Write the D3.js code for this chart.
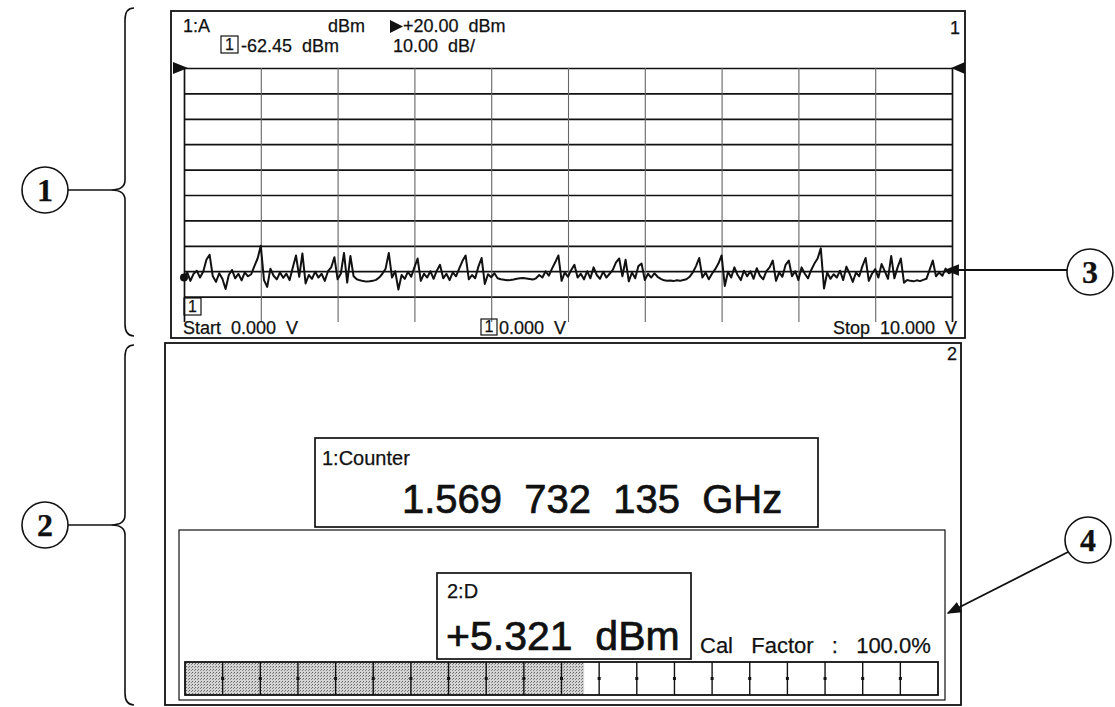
<!DOCTYPE html>
<html>
<head>
<meta charset="utf-8">
<script src="https://cdn.jsdelivr.net/npm/d3@7"></script>
<style>
  html, body { margin: 0; padding: 0; background: #ffffff; }
  svg text { font-family: "Liberation Sans", Arial, sans-serif; fill: #111; white-space: pre; stroke: #111; stroke-width: 0.25px; }
</style>
</head>
<body>
<div id="chart"></div>
<script>
var traceDbm = [
  -62.4, -60.5, -63.8, -61.0, -59.8, -62.5, -60.2, -55.5, -53.5, -62.0,
  -64.2, -60.8, -63.0, -67.0, -61.5, -59.5, -62.8, -61.0, -63.6, -60.5,
  -62.0, -61.2, -58.0, -55.0, -50.0, -63.5, -66.2, -59.0, -61.8, -63.2,
  -60.5, -62.6, -61.0, -63.5, -58.5, -53.8, -62.2, -53.0, -64.8, -61.5,
  -63.0, -60.2, -62.5, -61.0, -63.8, -60.0, -58.5, -54.5, -63.2, -61.0,
  -52.8, -64.5, -54.0, -62.0, -63.2, -63.6, -63.9, -64.1, -64.0, -63.8,
  -63.4, -62.5, -61.0, -59.0, -52.8, -62.5, -60.0, -67.2, -61.5, -63.0,
  -60.2, -62.2, -58.5, -55.0, -63.8, -61.0, -62.5, -60.0, -63.0, -59.8,
  -57.5, -62.8, -61.0, -63.5, -60.5, -62.0, -59.0, -56.0, -53.8, -63.2,
  -61.5, -62.8, -58.2, -54.8, -65.0, -61.2, -62.4, -60.8, -62.8, -63.2,
  -63.4, -63.6, -63.5, -63.3, -63.0, -62.8, -62.7, -62.9, -63.1, -63.3,
  -62.8, -61.5, -62.5, -60.0, -61.8, -59.0, -56.5, -53.8, -63.8, -60.5,
  -62.2, -59.5, -57.5, -62.5, -61.0, -63.2, -60.0, -62.8, -58.5, -61.5,
  -63.0, -60.2, -62.5, -61.0, -59.5, -56.5, -55.0, -62.0, -55.5, -64.0,
  -60.5, -62.8, -58.0, -57.0, -63.5, -61.0, -62.5, -60.8, -62.2, -63.0,
  -63.6, -63.8, -63.7, -63.9, -63.6, -63.8, -63.5, -63.2, -62.2, -60.5,
  -58.0, -54.8, -62.5, -60.5, -63.2, -61.0, -59.2, -57.0, -53.8, -65.8,
  -60.2, -62.5, -58.5, -61.5, -63.5, -59.8, -62.0, -60.0, -63.0, -58.8,
  -61.8, -63.2, -60.0, -58.5, -55.8, -63.8, -60.5, -62.2, -57.5, -55.8,
  -62.0, -60.0, -63.5, -58.5, -61.0, -62.8, -59.5, -57.0, -55.0, -51.0,
  -66.8, -60.5, -63.0, -61.2, -62.5, -59.8, -63.5, -58.2, -61.0, -64.2,
  -60.5, -62.0, -58.0, -54.8, -63.8, -61.0, -59.2, -62.5, -57.2, -60.0,
  -63.0, -54.0, -62.8, -58.5, -55.0, -64.5, -63.5, -63.8, -64.0, -63.6,
  -63.9, -63.4, -63.0, -59.5, -55.8, -62.0, -60.5, -61.8, -59.0, -60.8,
  -60.2
];
var sweepVolts = [0, 10];
var refLevel = 20;      // dBm at top line
var dbPerDiv = 10;
var markerDbm = -62.45;
var counterText = '1.569  732  135  GHz';
var powerText = '+5.321  dBm';
var calText = 'Cal  Factor  :  100.0%';
var barSegments = 20;
var barLevel = 10.6;    // filled segments
var calloutLabels = ['1', '2', '3', '4'];

var W = 1115, H = 707;
var svg = d3.select('#chart').append('svg').attr('width', W).attr('height', H);

var defs = svg.append('defs');
var pat = defs.append('pattern').attr('id', 'stipple').attr('width', 3).attr('height', 3).attr('patternUnits', 'userSpaceOnUse');
pat.append('rect').attr('width', 3).attr('height', 3).attr('fill', '#d4d4d4');
pat.append('rect').attr('x', 0).attr('y', 0).attr('width', 1).attr('height', 1).attr('fill', '#666');
pat.append('rect').attr('x', 2).attr('y', 1).attr('width', 1).attr('height', 1).attr('fill', '#888');
defs.append('marker').attr('id', 'arrow').attr('viewBox', '0 0 10 10').attr('refX', 9).attr('refY', 5)
  .attr('markerWidth', 8).attr('markerHeight', 8).attr('orient', 'auto-start-reverse')
  .append('path').attr('d', 'M0,1 L10,5 L0,9 z').attr('fill', '#111');

function txt(px, py, s, size, anchor, weight){
  return svg.append('text').attr('x', px).attr('y', py).attr('text-anchor', anchor || 'start')
    .style('font-size', size + 'px').style('font-weight', weight || 'normal').text(s);
}
function boxNum(px, py, w, h, size){
  svg.append('rect').attr('x', px).attr('y', py).attr('width', w).attr('height', h)
    .attr('fill', 'none').attr('stroke', '#111').attr('stroke-width', 1.2);
  txt(px + w / 2, py + h - 3, '1', size, 'middle');
}

// ---------- window 1 ----------
var g = { left: 184, right: 952, top: 68, bottom: 322 };
svg.append('rect').attr('x', 171).attr('y', 11).attr('width', 794).attr('height', 327)
  .attr('fill', 'none').attr('stroke', '#111').attr('stroke-width', 1.8);

var x = d3.scaleLinear().domain(sweepVolts).range([g.left, g.right]);
var y = d3.scaleLinear().domain([refLevel - 10 * dbPerDiv, refLevel]).range([g.bottom, g.top]);

// horizontal graticule
var gy = svg.append('g').attr('transform', 'translate(' + g.left + ',0)')
  .call(d3.axisLeft(y).tickValues(d3.range(refLevel - 10 * dbPerDiv, refLevel + 1, dbPerDiv)).tickSize(-(g.right - g.left)).tickFormat(''));
gy.select('.domain').remove();
gy.selectAll('line').attr('stroke', '#111').attr('stroke-width', 1.7);
gy.selectAll('.tick').filter(function(d){ return d === refLevel - 10 * dbPerDiv; }).remove();

// vertical graticule
var gx = svg.append('g').attr('transform', 'translate(0,' + g.top + ')')
  .call(d3.axisBottom(x).ticks(10).tickSize(g.bottom - g.top).tickFormat(''));
gx.select('.domain').remove();
gx.selectAll('line').attr('stroke', '#666').attr('stroke-width', 1.1);
gx.selectAll('line').filter(function(d){ return d === 0 || d === 10; }).attr('stroke', '#111').attr('stroke-width', 1.7);

// reference level markers
svg.append('path').attr('d', 'M173,62 L188,68 L173,74 Z').attr('fill', '#111');
svg.append('path').attr('d', 'M965,62 L951,68 L965,74 Z').attr('fill', '#111');

// trace
var step = (sweepVolts[1] - sweepVolts[0]) / (traceDbm.length - 1);
var line = d3.line().x(function(d, i){ return x(i * step); }).y(function(d){ return y(d); });
svg.append('path').datum(traceDbm).attr('d', line).attr('fill', 'none')
  .attr('stroke', '#111').attr('stroke-width', 2).attr('stroke-linejoin', 'round');
svg.append('circle').attr('cx', x(0)).attr('cy', y(markerDbm)).attr('r', 4).attr('fill', '#111');

// header
txt(183, 32, '1:A', 18);
txt(328, 32, 'dBm', 18);
svg.append('path').attr('d', 'M390,20 L403,26.5 L390,33 Z').attr('fill', '#111');
txt(403, 32, '+20.00  dBm', 18);
txt(960, 34, '1', 18, 'end');
boxNum(221, 36, 17, 17, 16);
txt(241, 52, '-62.45  dBm', 18);
txt(393, 52, '10.00  dB/', 18);

// bottom annotations
boxNum(184, 298, 17, 17, 16);
txt(183, 334, 'Start  0.000  V', 18);
boxNum(481, 319, 16, 16, 16);
txt(499, 334, '0.000  V', 18);
txt(957, 334, 'Stop  10.000  V', 18, 'end');

// ---------- window 2 ----------
svg.append('rect').attr('x', 165).attr('y', 343).attr('width', 796).attr('height', 362)
  .attr('fill', 'none').attr('stroke', '#111').attr('stroke-width', 1.8);
txt(957, 360, '2', 18, 'end');

svg.append('rect').attr('x', 315).attr('y', 438).attr('width', 503).attr('height', 89)
  .attr('fill', '#fff').attr('stroke', '#111').attr('stroke-width', 1.7);
txt(322, 465, '1:Counter', 20);
txt(402, 513, counterText, 40).style('stroke-width', '0.7px');

svg.append('rect').attr('x', 179).attr('y', 530).attr('width', 766).attr('height', 170)
  .attr('fill', 'none').attr('stroke', '#111').attr('stroke-width', 1.2);

svg.append('rect').attr('x', 437).attr('y', 573).attr('width', 254).attr('height', 86)
  .attr('fill', '#fff').attr('stroke', '#111').attr('stroke-width', 1.7);
txt(447, 598, '2:D', 20);
txt(446, 650, powerText, 41).style('stroke-width', '0.7px');
txt(700, 653, calText, 22).style('word-spacing', '3px');

// analog bar
var bx = d3.scaleLinear().domain([0, barSegments]).range([185, 938]);
var barTop = 662, barBot = 695;
svg.append('rect').attr('x', bx(0)).attr('y', barTop).attr('width', bx(barLevel) - bx(0)).attr('height', barBot - barTop)
  .attr('fill', 'url(#stipple)');
svg.append('rect').attr('x', bx(0)).attr('y', barTop).attr('width', bx(barSegments) - bx(0)).attr('height', barBot - barTop)
  .attr('fill', 'none').attr('stroke', '#111').attr('stroke-width', 1.8);
var divs = svg.append('g').selectAll('g').data(d3.range(1, barSegments)).enter().append('g');
divs.append('line').attr('x1', function(d){ return bx(d); }).attr('x2', function(d){ return bx(d); })
  .attr('y1', barTop).attr('y2', barBot).attr('stroke', '#111').attr('stroke-width', 1.4);
divs.append('line').attr('x1', function(d){ return bx(d) - 1.5; }).attr('x2', function(d){ return bx(d) + 1.5; })
  .attr('y1', (barTop + barBot) / 2).attr('y2', (barTop + barBot) / 2).attr('stroke', '#111').attr('stroke-width', 3);

// ---------- callouts ----------
function brace(xv, y0, y1, ym){
  var tipX = xv - 14, cx = xv + 9;
  var d = 'M' + cx + ',' + y0 + ' Q' + xv + ',' + y0 + ' ' + xv + ',' + (y0 + 12) +
    ' L' + xv + ',' + (ym - 10) + ' Q' + xv + ',' + ym + ' ' + tipX + ',' + ym +
    ' Q' + xv + ',' + ym + ' ' + xv + ',' + (ym + 10) +
    ' L' + xv + ',' + (y1 - 12) + ' Q' + xv + ',' + y1 + ' ' + cx + ',' + y1;
  svg.append('path').attr('d', d).attr('fill', 'none').attr('stroke', '#111').attr('stroke-width', 1.6);
  return tipX;
}
function bubble(cx, cy, label){
  svg.append('circle').attr('cx', cx).attr('cy', cy).attr('r', 23).attr('fill', '#fff')
    .attr('stroke', '#111').attr('stroke-width', 1.6);
  svg.append('text').attr('x', cx).attr('y', cy + 11).attr('text-anchor', 'middle')
    .style('font-family', '"Liberation Serif", serif').style('font-size', '32px').style('font-weight', 'bold')
    .text(label);
}
var t1 = brace(125, 8, 336, 190);
svg.append('line').attr('x1', 68).attr('x2', t1).attr('y1', 190).attr('y2', 190).attr('stroke', '#111').attr('stroke-width', 1.6);
bubble(45, 190, calloutLabels[0]);
var t2 = brace(125, 345, 705, 525);
svg.append('line').attr('x1', 68).attr('x2', t2).attr('y1', 525).attr('y2', 525).attr('stroke', '#111').attr('stroke-width', 1.6);
bubble(45, 525, calloutLabels[1]);

svg.append('line').attr('x1', 1067).attr('y1', 270).attr('x2', 946).attr('y2', 270)
  .attr('stroke', '#111').attr('stroke-width', 1.8).attr('marker-end', 'url(#arrow)');
bubble(1090, 272, calloutLabels[2]);
svg.append('line').attr('x1', 1068).attr('y1', 552).attr('x2', 948).attr('y2', 613)
  .attr('stroke', '#111').attr('stroke-width', 1.8).attr('marker-end', 'url(#arrow)');
bubble(1088, 540, calloutLabels[3]);
</script>
</body>
</html>
